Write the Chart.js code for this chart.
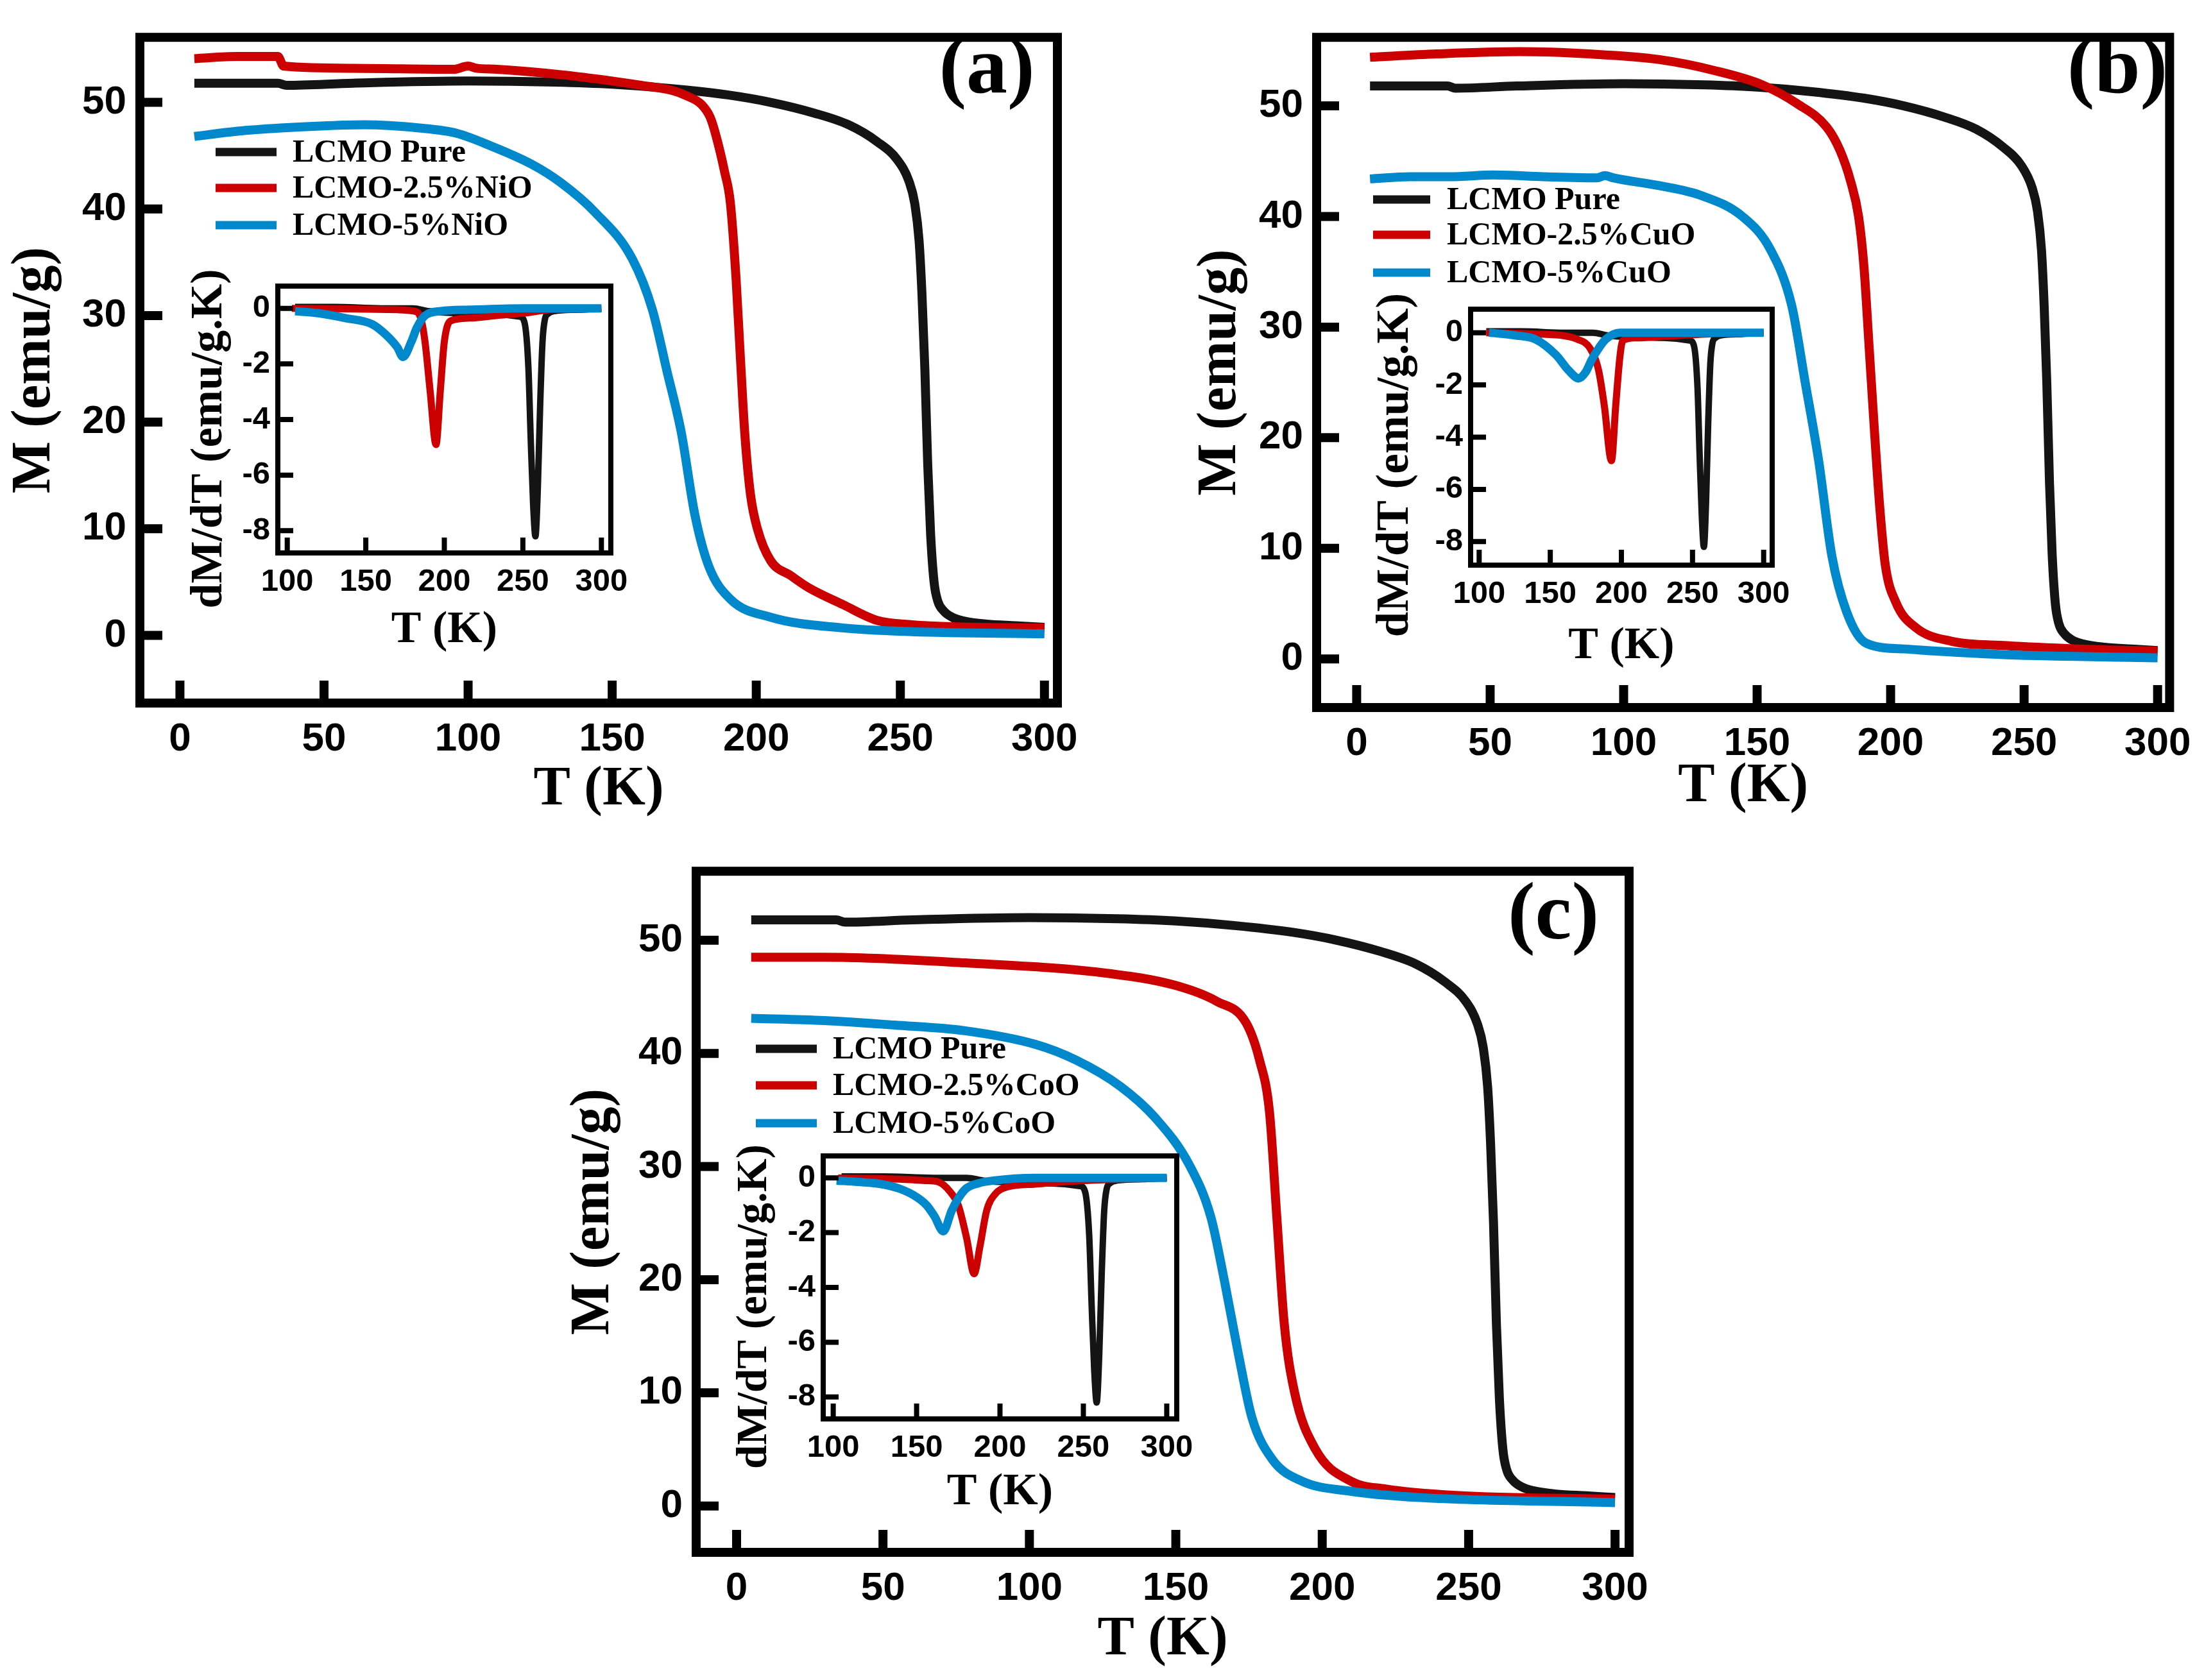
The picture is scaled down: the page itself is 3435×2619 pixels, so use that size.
<!DOCTYPE html>
<html>
<head>
<meta charset="utf-8">
<script src="https://cdn.jsdelivr.net/npm/chart.js@4.4.1/dist/chart.umd.min.js"></script>
<style>
  html, body { margin: 0; padding: 0; background: #fff; }
  #wrap { position: relative; width: 3435px; height: 2619px; background: #fff; overflow: hidden; }
  canvas { position: absolute; }
</style>
</head>
<body>
<div id="wrap">
  <canvas id="mainA" width="1717" height="1300" style="left:0px;top:0px"></canvas>
  <canvas id="mainB" width="1718" height="1300" style="left:1717px;top:0px"></canvas>
  <canvas id="mainC" width="1750" height="1319" style="left:850px;top:1300px"></canvas>
  <canvas id="insetA" width="720" height="640" style="left:290px;top:400px"></canvas>
  <canvas id="insetB" width="690" height="640" style="left:2130px;top:440px"></canvas>
  <canvas id="insetC" width="760" height="640" style="left:1140px;top:1760px"></canvas>
</div>
<script>
// M(T) curves, T in K, M in emu/g
const pureT = [5, 20, 34, 37, 60, 100, 130, 150, 170, 190, 205, 220, 232, 242, 249, 253, 255, 256.5, 257.5, 258.5, 259.5, 260.5, 261.7, 263, 265, 268, 272, 280, 290, 300];
const pureM = [51.8, 51.8, 51.8, 51.6, 51.8, 52.0, 51.9, 51.7, 51.3, 50.7, 50.0, 49.0, 47.9, 46.3, 44.6, 42.6, 40.5, 37, 32, 25, 16, 9.5, 5.0, 3.2, 2.3, 1.7, 1.35, 1.05, 0.9, 0.75];

const nio25T = [5, 20, 34, 36, 60, 95, 100, 103, 110, 132, 150, 160, 171, 176, 181, 184, 186, 189, 191, 193, 194.5, 196, 198, 200.5, 205, 212, 218, 230, 242, 254, 270, 300];
const nio25M = [54.1, 54.3, 54.3, 53.4, 53.2, 53.1, 53.4, 53.2, 53.1, 52.6, 52.0, 51.6, 51.1, 50.6, 49.8, 48.6, 46.9, 43.5, 40.6, 33.4, 26, 19, 13.2, 9.9, 7.0, 5.6, 4.5, 2.9, 1.4, 1.0, 0.8, 0.7];
const nio5T = [5, 20, 35, 50, 64, 83, 96, 108, 122, 132, 144, 157, 164, 169, 174, 178.7, 183.5, 191, 205, 230, 254, 300];
const nio5M = [46.8, 47.3, 47.6, 47.8, 47.9, 47.6, 47.1, 45.9, 44.2, 42.5, 39.7, 35.3, 30.5, 24.8, 19.0, 11.3, 6.5, 3.4, 1.7, 0.7, 0.35, 0.15];

const cuo25T = [5, 30, 61, 87, 113, 134, 152, 165, 176, 181, 185, 188, 190, 192, 194, 196, 198, 202, 209.6, 222.7, 243.5, 270, 300];
const cuo25M = [54.4, 54.7, 54.9, 54.7, 54.2, 53.2, 51.9, 50.2, 48.1, 46.0, 43.2, 40.0, 35.5, 28.0, 20.4, 13.5, 8.5, 5.1, 2.8, 1.6, 1.2, 0.9, 0.7];
const cuo5T = [5, 20, 35, 51, 70, 90, 93, 96, 113, 129, 144.5, 155, 163, 168, 173, 178, 183.6, 191, 205, 217, 243.5, 300];
const cuo5M = [43.4, 43.6, 43.6, 43.75, 43.6, 43.5, 43.7, 43.5, 42.8, 41.9, 40.0, 37.0, 31.9, 25.0, 18.0, 9.3, 4.2, 1.4, 0.9, 0.7, 0.37, 0.1];

const coo25T = [5, 30, 78, 126, 150, 164, 174, 178.6, 182, 184.5, 187, 190.5, 197.7, 209.7, 221.6, 245.5, 300];
const coo25M = [48.5, 48.5, 48.0, 47.1, 46.0, 44.6, 42.7, 39.4, 34.8, 25.5, 16.2, 10.1, 5.0, 2.2, 1.5, 0.93, 0.6];
const coo5T = [5, 30, 54, 78, 102, 116, 131, 143, 154.7, 162, 166.6, 171.4, 176, 183, 193, 209.7, 233.6, 300];
const coo5M = [43.1, 42.9, 42.5, 42.0, 40.8, 39.4, 37.1, 34.3, 30.1, 25.5, 19.9, 13.4, 7.8, 4.1, 2.2, 1.3, 0.74, 0.3];

// dM/dT insets, emu/g.K
const dPureT = [105, 130, 160, 180, 190, 200, 230, 248, 251, 253.5, 255, 256.5, 258, 259.5, 261, 262.5, 264, 266, 270, 285, 300];
const dPureM = [0.05, 0.05, 0.0, 0.0, -0.1, -0.15, -0.2, -0.3, -0.5, -2.1, -4.7, -7.0, -8.2, -6.5, -3.5, -1.2, -0.4, -0.2, -0.1, -0.05, 0];

const dNio25T = [103, 140, 170, 180.7, 185, 187.7, 191, 194.7, 197.4, 200, 204, 215.8, 233, 251, 268, 300];
const dNio25M = [0, -0.02, -0.05, -0.1, -0.35, -1.2, -3.0, -4.9, -3.0, -1.2, -0.45, -0.35, -0.26, -0.17, -0.05, -0.02];
const dNio5T = [105, 119, 137, 154, 163, 170, 173.7, 179, 182.5, 187.7, 198, 216, 250, 300];
const dNio5M = [-0.1, -0.17, -0.35, -0.57, -0.96, -1.4, -1.75, -1.2, -0.7, -0.26, -0.1, -0.05, 0, 0];

const dCuo25T = [105, 140, 160, 169, 178, 184, 188, 193, 196, 199, 201, 210, 228, 260, 300];
const dCuo25M = [0, -0.05, -0.12, -0.25, -0.6, -1.45, -2.8, -4.9, -2.8, -0.9, -0.3, -0.2, -0.15, -0.05, 0];
const dCuo5T = [107, 125, 139.5, 154, 163, 170, 175, 179, 184, 189, 199, 230, 300];
const dCuo5M = [0, -0.1, -0.25, -0.85, -1.45, -1.75, -1.5, -1.05, -0.6, -0.25, 0, 0, 0];

const dCoo25T = [103, 140, 155, 163, 170, 175, 180, 184.5, 188, 192, 197, 204.6, 221, 250, 300];
const dCoo25M = [0, -0.05, -0.1, -0.15, -0.5, -1.0, -2.2, -3.5, -2.5, -1.2, -0.6, -0.33, -0.23, -0.1, 0];
const dCoo5T = [102, 115, 129, 140, 150, 156, 160.7, 166, 171, 175, 179.5, 187, 196, 221, 300];
const dCoo5M = [-0.1, -0.15, -0.23, -0.4, -0.7, -1.0, -1.4, -1.95, -1.2, -0.75, -0.4, -0.2, -0.1, 0, 0];

const labelsNiO = ["LCMO Pure", "LCMO-2.5%NiO", "LCMO-5%NiO"];
const labelsCuO = ["LCMO Pure", "LCMO-2.5%CuO", "LCMO-5%CuO"];
const labelsCoO = ["LCMO Pure", "LCMO-2.5%CoO", "LCMO-5%CoO"];
const colors = ["#141414", "#cc0000", "#0088cc"];

const SERIF = "'Liberation Serif', 'Times New Roman', serif";
const SANS = "'Liberation Sans', Arial, sans-serif";

function makeSeries(T, M) {
  return T.map((t, i) => ({ x: t, y: M[i] }));
}

// frame, inward ticks, legend, panel letter and (for insets) the long y title
const framePlugin = {
  id: "frame",
  afterDatasetsDraw(chart, args, opts) {
    const ctx = chart.ctx;
    const a = chart.chartArea;
    const xs = chart.scales.x;
    const ys = chart.scales.y;
    ctx.save();
    ctx.strokeStyle = "#000";
    ctx.lineCap = "butt";
    ctx.lineWidth = opts.tickWidth;
    ctx.beginPath();
    xs.ticks.forEach(t => {
      const px = xs.getPixelForValue(t.value);
      ctx.moveTo(px, a.bottom);
      ctx.lineTo(px, a.bottom - opts.tickLen);
    });
    ys.ticks.forEach(t => {
      const py = ys.getPixelForValue(t.value);
      ctx.moveTo(a.left, py);
      ctx.lineTo(a.left + opts.tickLen, py);
    });
    ctx.stroke();
    ctx.lineWidth = opts.width;
    ctx.strokeRect(a.left, a.top, a.right - a.left, a.bottom - a.top);

    const lg = opts.legend;
    if (lg) {
      ctx.font = "bold " + lg.size + "px " + SERIF;
      ctx.textBaseline = "middle";
      ctx.textAlign = "left";
      chart.data.datasets.forEach((ds, i) => {
        const y = lg.rows[i];
        ctx.strokeStyle = ds.borderColor;
        ctx.lineWidth = lg.lineWidth;
        ctx.beginPath();
        ctx.moveTo(lg.x0, y);
        ctx.lineTo(lg.x1, y);
        ctx.stroke();
        ctx.fillStyle = "#000";
        ctx.fillText(ds.label, lg.tx, y + 2);
      });
    }
    if (opts.letter) {
      ctx.font = "bold " + opts.letter.size + "px " + SERIF;
      ctx.textAlign = "center";
      ctx.textBaseline = "middle";
      ctx.fillStyle = "#000";
      ctx.fillText(opts.letter.text, opts.letter.x, opts.letter.y);
    }
    if (opts.yTitle) {
      const yt = opts.yTitle;
      ctx.font = "bold " + yt.size + "px " + SERIF;
      ctx.textAlign = "center";
      ctx.textBaseline = "middle";
      ctx.fillStyle = "#000";
      ctx.translate(yt.x, yt.y);
      ctx.rotate(-Math.PI / 2);
      ctx.fillText(yt.text, 0, 0);
    }
    ctx.restore();
  }
};

function buildChart(id, o) {
  const datasets = o.series.map((s, i) => ({
    label: s.label,
    data: makeSeries(s.t, s.m),
    borderColor: colors[i],
    borderWidth: o.lineWidth[i],
    pointRadius: 0,
    fill: false,
    cubicInterpolationMode: "monotone",
    order: 3 - i
  }));
  return new Chart(document.getElementById(id), {
    type: "line",
    data: { datasets: datasets },
    options: {
      responsive: false,
      devicePixelRatio: 1,
      animation: false,
      events: [],
      layout: { padding: { left: 0, top: o.padTop, right: o.padRight, bottom: 0 } },
      plugins: {
        legend: { display: false },
        tooltip: { enabled: false },
        frame: o.frame
      },
      scales: {
        x: {
          type: "linear",
          min: o.xMin, max: o.xMax,
          afterFit: s => { s.height = o.xH; },
          grid: { display: false, drawTicks: false },
          border: { display: false },
          ticks: {
            stepSize: o.xStep, includeBounds: false, autoSkip: false, maxRotation: 0,
            padding: o.xPad, color: "#000",
            font: { family: SANS, weight: "bold", size: o.tickSize }
          },
          title: {
            display: true, text: "T (K)", color: "#000",
            padding: { top: 0, bottom: o.xTitlePad },
            font: { family: SERIF, weight: "bold", size: o.titleSize, lineHeight: 1 }
          }
        },
        y: {
          type: "linear",
          min: o.yMin, max: o.yMax,
          afterFit: s => { s.width = o.yW; },
          grid: { display: false, drawTicks: false },
          border: { display: false },
          ticks: {
            stepSize: o.yStep, includeBounds: false, autoSkip: false,
            padding: o.yPad, color: "#000",
            font: { family: SANS, weight: "bold", size: o.tickSize }
          },
          title: {
            display: !!o.yTitle, text: o.yTitle || "", color: "#000",
            padding: { top: o.yTitlePad || 0, bottom: 0 },
            font: { family: SERIF, weight: "bold", size: o.titleSize, lineHeight: 1 }
          }
        }
      }
    },
    plugins: [framePlugin]
  });
}

function mainFrame(legend, letter) {
  return { width: 14, tickWidth: 14, tickLen: 35, legend: legend, letter: letter };
}
function insetFrame(x, y, size) {
  return { width: 8, tickWidth: 8, tickLen: 24,
           yTitle: { text: "dM/dT (emu/g.K)", x: x, y: y, size: size } };
}

const mainBase = {
  xStep: 50, yStep: 10, tickSize: 62, titleSize: 86, xPad: 20, yPad: 21,
  yTitle: "M (emu/g)", lineWidth: [14, 14, 14]
};
const insetBase = {
  xMin: 94, xMax: 306, xStep: 50, yStep: 2, tickSize: 49, titleSize: 70,
  xPad: 16, yPad: 12, lineWidth: [10, 11, 13]
};

// main title centre = lineHeight/2 (43) + padding
buildChart("mainA", Object.assign({}, mainBase, {
  series: [
    { label: labelsNiO[0], t: pureT, m: pureM },
    { label: labelsNiO[1], t: nio25T, m: nio25M },
    { label: labelsNiO[2], t: nio5T, m: nio5M }
  ],
  xMin: -13.9, xMax: 304.5, yMin: -6.35, yMax: 56.1,
  padTop: 24, padRight: 69, yW: 218, xH: 204, yTitlePad: 12, xTitlePad: 25,
  frame: mainFrame({ x0: 336, x1: 431, tx: 456, rows: [237, 293, 351], size: 50, lineWidth: 13 },
                   { text: "(a)", x: 1538, y: 111, size: 128 })
}));

buildChart("mainB", Object.assign({}, mainBase, {
  series: [
    { label: labelsCuO[0], t: pureT, m: pureM },
    { label: labelsCuO[1], t: cuo25T, m: cuo25M },
    { label: labelsCuO[2], t: cuo5T, m: cuo5M }
  ],
  xMin: -15, xMax: 304.5, yMin: -4.4, yMax: 56.2,
  padTop: 21, padRight: 43, yW: 335, xH: 197, yTitlePad: 143, xTitlePad: 30,
  frame: mainFrame({ x0: 423, x1: 512, tx: 538, rows: [311, 366, 425], size: 50, lineWidth: 13 },
                   { text: "(b)", x: 1583, y: 111, size: 128 })
}));

buildChart("mainC", Object.assign({}, mainBase, {
  series: [
    { label: labelsCoO[0], t: pureT, m: pureM },
    { label: labelsCoO[1], t: coo25T, m: coo25M },
    { label: labelsCoO[2], t: coo5T, m: coo5M }
  ],
  xMin: -13.8, xMax: 304.8, yMin: -4.1, yMax: 56.1,
  padTop: 35, padRight: 61, yW: 235, xH: 199, yTitlePad: 33, xTitlePad: 19,
  frame: mainFrame({ x0: 328, x1: 423, tx: 448, rows: [335, 392, 451], size: 50, lineWidth: 13 },
                   { text: "(c)", x: 1571, y: 130, size: 128 })
}));

// inset x title centre = 35 + padding from canvas bottom
buildChart("insetA", Object.assign({}, insetBase, {
  series: [
    { label: labelsNiO[0], t: dPureT, m: dPureM },
    { label: labelsNiO[1], t: dNio25T, m: dNio25M },
    { label: labelsNiO[2], t: dNio5T, m: dNio5M }
  ],
  yMin: -8.8, yMax: 0.8,
  padTop: 46, padRight: 58, yW: 143, xH: 178, xTitlePad: 22,
  frame: insetFrame(37, 284, 70)
}));

buildChart("insetB", Object.assign({}, insetBase, {
  series: [
    { label: labelsCuO[0], t: dPureT, m: dPureM },
    { label: labelsCuO[1], t: dCuo25T, m: dCuo25M },
    { label: labelsCuO[2], t: dCuo5T, m: dCuo5M }
  ],
  yMin: -8.9, yMax: 0.9,
  padTop: 42, padRight: 58, yW: 162, xH: 199, xTitlePad: 37,
  frame: insetFrame(46, 285, 71)
}));

buildChart("insetC", Object.assign({}, insetBase, {
  series: [
    { label: labelsCoO[0], t: dPureT, m: dPureM },
    { label: labelsCoO[1], t: dCoo25T, m: dCoo25M },
    { label: labelsCoO[2], t: dCoo5T, m: dCoo5M }
  ],
  yMin: -8.8, yMax: 0.8,
  padTop: 42, padRight: 66, yW: 143, xH: 188, xTitlePad: 38,
  frame: insetFrame(37, 277, 67)
}));
</script>
</body>
</html>
